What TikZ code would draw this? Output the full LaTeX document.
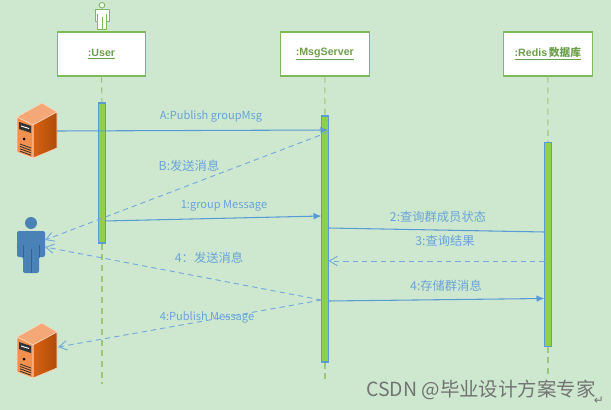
\documentclass[tikz,border=0pt]{standalone}
\usepackage{fontspec}
\setmainfont{Liberation Sans}
\newfontfamily\cjkf{Noto Sans CJK SC}
\newfontfamily\dejaf{DejaVu Sans}
\usetikzlibrary{arrows.meta}
\definecolor{bgc}{HTML}{CDE8CF}
\definecolor{grn}{HTML}{7FBA5A}
\definecolor{barg}{HTML}{8FCF4A}
\definecolor{blu}{HTML}{5B9BD5}
\definecolor{lblc}{HTML}{6AA3D8}
\definecolor{personb}{HTML}{4A82B5}
\definecolor{orA}{HTML}{D9600F}
\definecolor{orB}{HTML}{F4A877}
\definecolor{orC}{HTML}{F2914F}
\tikzset{
  x=0.75pt,y=-0.75pt,
  obj/.style={draw=grn,line width=0.9pt,fill=white,minimum width=66.5pt,minimum height=33pt,inner sep=0pt,text=grn!85!black,font=\fontsize{8pt}{10pt}\selectfont\bfseries},
  life/.style={draw=grn!80!white,line width=0.8pt,dash pattern=on 4.5pt off 3.5pt},
  actbar/.style={draw=blu,line width=0.8pt,fill=barg},
  msg/.style={draw=blu,line width=0.8pt,-{Latex[length=6pt,width=5pt]}},
  ret/.style={draw=blu!85!white,line width=0.7pt,dash pattern=on 4pt off 3pt,-{Straight Barb[length=6pt,width=7pt]}},
  lbl/.style={text=lblc,font=\fontsize{8.3pt}{10pt}\selectfont\cjkf,inner sep=0pt},
  lblz/.style={text=lblc,font=\fontsize{9.2pt}{11pt}\selectfont\cjkf,inner sep=0pt},
  pics/srv/.style={code={
    \fill[orB,draw=white!60!orB,line width=0.4pt] (-17,-10) -- (8,-24) -- (23,-15) -- (-1,-2) -- cycle;
    \shade[left color=orA,right color=orA!80!black,draw=white!60!orB,line width=0.4pt] (-1,-2) -- (23,-15) -- (23,21) -- (-1,31) -- cycle;
    \fill[orC,draw=white!60!orB,line width=0.4pt] (-17,-10) -- (-1,-2) -- (-1,31) -- (-17,25) -- cycle;
    \fill[black!80] (-15,-5) -- (-3,-1) -- (-3,6) -- (-15,2) -- cycle;
    \fill[white] (-13,-1.5) -- (-5,1) -- (-5,2) -- (-13,-0.5) -- cycle;
    \fill[black] (-10,12) circle (1.5);
    \foreach \k in {0,2.4,4.8,7.2}{\draw[black!80,line width=0.6pt] (-14,17+\k) -- (-3,21+\k);}
  }},
  pics/prsn/.style={code={
    \fill[personb] (0,-8) circle (6);
    \fill[personb,rounded corners=1.5pt] (-14,0) -- (14,0) -- (14,26) -- (8,26) -- (8,42) -- (-8,42) -- (-8,26) -- (-14,26) -- cycle;
    \draw[personb!75!black,line width=0.4pt] (0,18) -- (0,42) (-8,14) -- (-8,26) (8,14) -- (8,26);
  }},
  pics/oprsn/.style={code={
    \draw[grn,fill=white,line width=0.7pt] (0,-11.7) circle (2.8);
    \draw[grn,fill=white,line width=0.7pt,line join=round] (-7,-8) -- (7,-8) -- (7,4) -- (4.2,4) -- (4.2,12) -- (-4.2,12) -- (-4.2,4) -- (-7,4) -- cycle;
    \draw[grn,line width=0.5pt] (0,0) -- (0,12) (-4.2,-3) -- (-4.2,4) (4.2,-3) -- (4.2,4);
  }}
}
\begin{document}
\begin{tikzpicture}
\useasboundingbox[fill=bgc] (0,0) rectangle (611,410);

% objects
\node[obj] (user) at (101.5,54) {\underline{:User}};
\node[obj] (msrv) at (324.8,54) {\underline{:MsgServer}};
\node[obj] (redis) at (547.8,54) {\underline{:Redis\,{\cjkf 数据库}}};
\pic at (102,17) {oprsn};

% lifeline end points and bars
\node[actbar,minimum width=4.8pt,minimum height=105pt,inner sep=0pt] (ubar) at (102,173) {};
\node[actbar,minimum width=4.8pt,minimum height=184.5pt,inner sep=0pt] (mbar) at (325,239) {};
\node[actbar,minimum width=4.8pt,minimum height=152.3pt,inner sep=0pt] (rbar) at (548,244.5) {};
\coordinate (uend) at (102,384);
\coordinate (mend) at (325,380);
\coordinate (rend) at (548,375);
\draw[life] (user.south) -- (ubar.north);
\draw[life] (ubar.south) -- (uend);
\draw[life] (msrv.south) -- (mbar.north);
\draw[life] (mbar.south) -- (mend);
\draw[life] (redis.south) -- (rbar.north);
\draw[life] (rbar.south) -- (rend);

% icons
\pic at (34,127) {srv};
\pic at (34,347) {srv};
\pic at (31,231) {prsn};
\coordinate (srv1) at (57,131);
\coordinate (srv2) at (58,347);
\coordinate (prsnA) at (45,240);
\coordinate (prsnB) at (45,247);
\coordinate (mA) at (328.5,130);
\coordinate (mB) at (328.5,132);
\coordinate (mC) at (321.5,216);
\coordinate (mD) at (328.5,228);
\coordinate (mE) at (328.5,261);
\coordinate (mF) at (328.5,301);
\coordinate (mG) at (321.5,300);
\coordinate (uC) at (104.5,221);
\coordinate (rD) at (544.5,232);
\coordinate (rE) at (544.5,261);
\coordinate (rF) at (544.5,298.5);

% messages
\draw[msg] (srv1) -- (mA);
\draw[ret] (mB) -- (prsnA);
\draw[msg] (uC) -- (mC);
\draw[msg,-] (mD) -- (rD);
\draw[ret] (rE) -- (mE);
\draw[msg] (mF) -- (rF);
\draw[ret] (mG) -- (prsnB);
\draw[ret] (mG) -- (srv2);

% labels
\node[lbl] (la) at (211,116) {A:Publish groupMsg};
\node[lblz] (lb) at (189,166) {B:发送消息};
\node[lbl] (lc) at (224,206) {1:group Message};
\node[lblz] (ld) at (438,217) {2:查询群成员状态};
\node[lblz] (le) at (445,241) {3:查询结果};
\node[lblz] (lf) at (209,258) {4：发送消息};
\node[lblz] (lg) at (446,286) {4:存储群消息};
\node[lbl] (lh) at (207,317) {4:Publish Message};

% watermark
\node[text=black!55,font=\fontsize{14.6pt}{16pt}\selectfont\cjkf,inner sep=0pt] (wm) at (481,390) {CSDN @毕业设计方案专家};
\node[text=black!55,font=\fontsize{9pt}{10pt}\selectfont\dejaf,inner sep=0pt] (wr) at (599,401) {↵};
\end{tikzpicture}
\end{document}
